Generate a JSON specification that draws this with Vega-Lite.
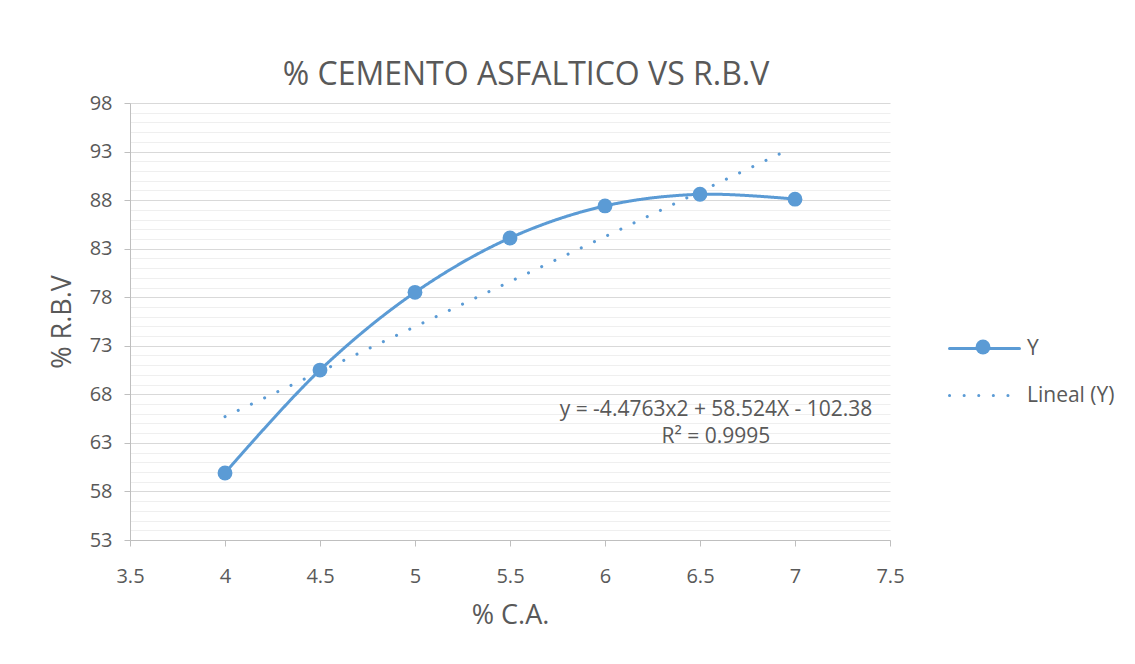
{
  "$schema": "https://vega.github.io/schema/vega-lite/v6.json",
  "autosize": "none",
  "width": 760,
  "height": 437,
  "padding": {"left": 130, "top": 103, "right": 245, "bottom": 124},
  "background": "white",
  "title": {"text": "% CEMENTO ASFALTICO VS R.B.V", "fontSize": 32, "font": "Open Sans", "fontWeight": "normal", "color": "#595959", "anchor": "middle", "dx": 16, "offset": 1},
  "config": {
    "view": {"stroke": null},
    "font": "Open Sans",
    "axis": {"labelColor": "#595959", "titleColor": "#595959", "labelFontSize": 20, "titleFontSize": 27, "titleFontWeight": "normal", "domainColor": "#bfbfbf", "tickColor": "#bfbfbf", "gridColor": "#d9d9d9", "tickSize": 6}
  },
  "datasets": {
    "series": [
      {"x": 4, "y": 59.9, "series": "Y"},
      {"x": 4.5, "y": 70.5, "series": "Y"},
      {"x": 5, "y": 78.5, "series": "Y"},
      {"x": 5.5, "y": 84.1, "series": "Y"},
      {"x": 6, "y": 87.4, "series": "Y"},
      {"x": 6.5, "y": 88.6, "series": "Y"},
      {"x": 7, "y": 88.1, "series": "Y"},
      {"x": 4, "y": 65.7, "series": "Lineal (Y)"},
      {"x": 6.95, "y": 93.05, "series": "Lineal (Y)"}
    ],
    "eq": [
      {"x": 6.584, "y": 66.4, "label": "y = -4.4763x2 + 58.524X - 102.38"},
      {"x": 6.584, "y": 63.6, "label": "R² = 0.9995"}
    ]
  },
  "layer": [
    {
      "data": {"name": "series"},
      "mark": {"type": "line", "interpolate": "catmull-rom", "strokeWidth": 3, "color": "#5B9BD5", "strokeCap": "round"},
      "encoding": {
        "x": {"field": "x", "type": "quantitative", "scale": {"domain": [3.5, 7.5], "nice": false, "zero": false},
          "axis": {"values": [3.5, 4, 4.5, 5, 5.5, 6, 6.5, 7, 7.5], "format": "~g", "grid": false, "title": "% C.A.", "labelPadding": 20, "titlePadding": 16, "labelFlush": false}},
        "y": {"field": "y", "type": "quantitative", "scale": {"domain": [53, 98], "nice": false, "zero": false},
          "axis": {"values": [53, 58, 63, 68, 73, 78, 83, 88, 93, 98], "orient": "left", "title": "% R.B.V", "labelPadding": 12, "titlePadding": 13, "labelFlush": false, "zindex": 0}},
        "strokeDash": {"field": "series", "type": "nominal",
          "scale": {"domain": ["Y", "Lineal (Y)"], "range": [[1, 0], [0.1, 14.5]]},
          "legend": {"title": null, "orient": "none", "legendX": 818, "legendY": 209, "symbolType": "stroke", "symbolSize": 4900, "symbolStrokeWidth": 3, "symbolStrokeColor": "#5B9BD5", "labelFontSize": 21, "labelColor": "#595959", "rowPadding": -20, "labelOffset": 6,
            "encode": {"symbols": {"update": {"strokeCap": {"value": "round"}}}}}}
      }
    },
    {
      "data": {"name": "series"},
      "transform": [{"filter": "datum.series === 'Y'"}],
      "mark": {"type": "point", "filled": true, "size": 220, "color": "#5B9BD5", "opacity": 1},
      "encoding": {
        "x": {"field": "x", "type": "quantitative"},
        "y": {"field": "y", "type": "quantitative", "scale": {"domain": [53, 98], "nice": false, "zero": false},
          "axis": {"values": [54, 55, 56, 57, 59, 60, 61, 62, 64, 65, 66, 67, 69, 70, 71, 72, 74, 75, 76, 77, 79, 80, 81, 82, 84, 85, 86, 87, 89, 90, 91, 92, 94, 95, 96, 97], "orient": "left", "labels": false, "ticks": false, "domain": false, "title": null, "grid": true, "gridColor": "#efefef"}},
        "shape": {"field": "series", "type": "nominal", "scale": {"domain": ["Y"], "range": ["circle"]},
          "legend": {"title": null, "orient": "none", "legendX": 843, "legendY": 234, "symbolSize": 220, "symbolFillColor": "#5B9BD5", "symbolStrokeColor": "#5B9BD5", "labelFontSize": 20, "labelColor": "transparent", "symbolOpacity": 1}}
      }
    },
    {
      "data": {"name": "eq"},
      "mark": {"type": "text", "fontSize": 21, "color": "#595959", "font": "Open Sans"},
      "encoding": {
        "x": {"field": "x", "type": "quantitative"},
        "y": {"field": "y", "type": "quantitative", "scale": {"domain": [53, 98], "nice": false, "zero": false}, "axis": null},
        "text": {"field": "label", "type": "nominal"}
      }
    }
  ],
  "resolve": {"axis": {"y": "independent"}, "legend": {"strokeDash": "independent", "shape": "independent"}}
}
